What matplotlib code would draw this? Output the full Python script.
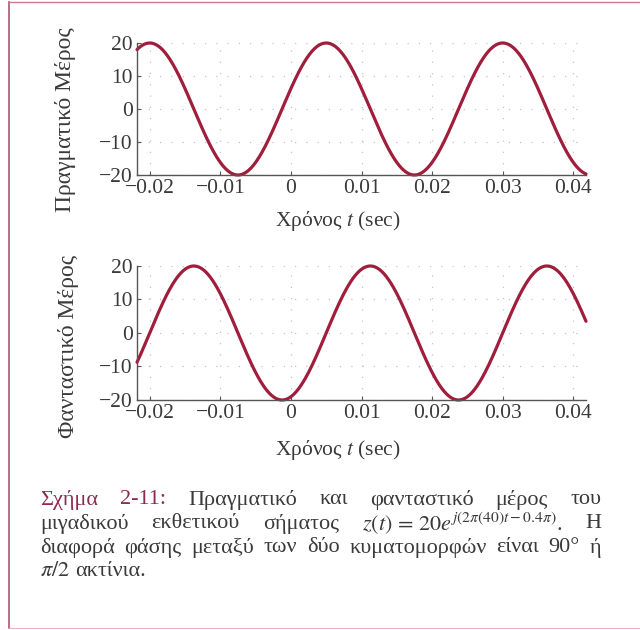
import numpy as np
import matplotlib
matplotlib.use("Agg")
import matplotlib.pyplot as plt
from matplotlib.lines import Line2D

# signal read from the caption: z(t) = 20 e^{j(2*pi*40*t - 0.4*pi)}
amplitude = 20
freq_hz = 40
phase_rad = -0.4 * np.pi
t_start, t_stop = -0.0218, 0.0418

xticks = [-0.02, -0.01, 0, 0.01, 0.02, 0.03, 0.04]
xticklabels = ["\u22120.02", "\u22120.01", "0", "0.01", "0.02", "0.03", "0.04"]
yticks = [-20, -10, 0, 10, 20]
yticklabels = ["\u221220", "\u221210", "0", "10", "20"]

ylabels = ["Πραγματικό Μέρος", "Φανταστικό Μέρος"]
xlabel = r"Χρόνος $t$ (sec)"

caption_lines = [
    ["Σχήμα", "2-11:", "Πραγματικό", "και", "φανταστικό", "μέρος", "του"],
    ["μιγαδικού", "εκθετικού", "σήματος", r"$z(t)\,=\,20e^{j(2\pi(40)t-0.4\pi)}$.", "Η"],
    ["διαφορά", "φάσης", "μεταξύ", "των", "δύο", "κυματομορφών", "είναι", "90°", "ή"],
    [r"$\pi/2$", "ακτίνια."],
]

plt.rcParams["font.family"] = ["Liberation Serif", "DejaVu Serif"]
plt.rcParams["mathtext.fontset"] = "stix"

line_color = "#a11d3c"
text_color = "#3a3a3a"

t = np.linspace(t_start, t_stop, 1200)
z = amplitude * np.exp(1j * (2 * np.pi * freq_hz * t + phase_rad))
parts = [z.real, z.imag]

W, H = 640, 630
fig = plt.figure(figsize=(6.4, 6.3), dpi=100)

# axes boxes in pixels: left, top, right, bottom
boxes = [(137, 43, 586, 175), (137, 266, 586, 400)]
ylab_pos = [(-0.135, 0.42), (-0.13, 0.40)]
xlab_y = [-0.26, -0.28]

for i, (l, tp, r, b) in enumerate(boxes):
    ax = fig.add_axes([l / W, 1 - b / H, (r - l) / W, (b - tp) / H])
    ax.plot(t, parts[i], color=line_color, lw=2.3, solid_capstyle="round", clip_on=False)
    ax.set_xlim(t_start, t_stop)
    ax.set_ylim(-20, 20)
    ax.set_xticks(xticks)
    ax.set_xticklabels(xticklabels)
    ax.set_yticks(yticks)
    ax.set_yticklabels(yticklabels)
    ax.grid(True, color="#c4c4c4", linestyle=(0, (1, 8)), lw=0.9)
    for s in ["top", "right"]:
        ax.spines[s].set_visible(False)
    for s in ["left", "bottom"]:
        ax.spines[s].set_color("#555555")
        ax.spines[s].set_linewidth(1.0)
    ax.tick_params(direction="in", length=3, width=0.8, colors="#555555",
                   labelcolor=text_color, labelsize=15.5, pad=3)
    ax.set_ylabel(ylabels[i], fontsize=17, color=text_color)
    ax.yaxis.set_label_coords(*ylab_pos[i])
    ax.set_xlabel(xlabel, fontsize=15.5, color=text_color)
    ax.xaxis.set_label_coords(0.448, xlab_y[i])

# page frame from the scan
fig.add_artist(Line2D([9 / W, 9 / W], [1 - 628 / H, 1 - 2 / H], color="#b5506f", lw=1.2))
fig.add_artist(Line2D([9 / W, 1], [1 - 2 / H, 1 - 2 / H], color="#c77a92", lw=1.0))
fig.add_artist(Line2D([9 / W, 1], [1 - 628 / H, 1 - 628 / H], color="#e3b8c6", lw=0.8))

# justified caption
cap_left, cap_right = 40, 601
cap_y = [500, 524, 548, 572]
fig.canvas.draw()
renderer = fig.canvas.get_renderer()
for n, words in enumerate(caption_lines):
    y = 1 - cap_y[n] / H
    objs = []
    for k, w in enumerate(words):
        col = "#8c2a50" if (n == 0 and k < 2) else text_color
        objs.append(fig.text(0, y, w, fontsize=16, color=col, va="center", ha="left"))
    widths = [o.get_window_extent(renderer).width for o in objs]
    if n < len(caption_lines) - 1:
        gap = (cap_right - cap_left - sum(widths)) / (len(objs) - 1)
    else:
        gap = 5
    x = cap_left
    for o, w in zip(objs, widths):
        o.set_x(x / W)
        x += w + gap

fig.savefig("out.png", dpi=100)
